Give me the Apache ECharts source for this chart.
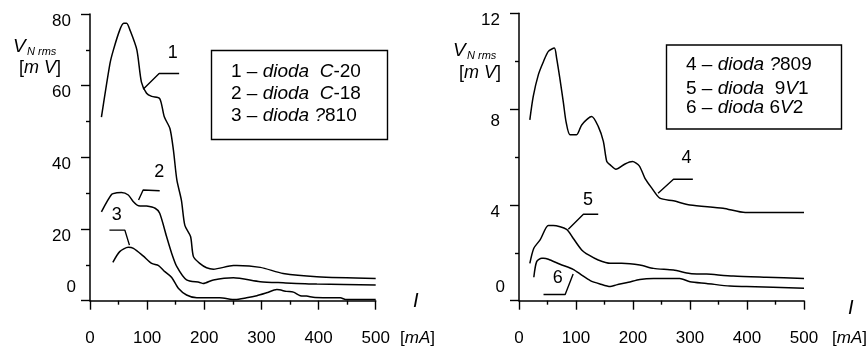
<!DOCTYPE html>
<html><head><meta charset="utf-8">
<script src="https://cdn.jsdelivr.net/npm/echarts@6/dist/echarts.min.js"></script>
<style>html,body{margin:0;padding:0;background:#fff}#c{width:867px;height:351px}</style>
</head><body><div id="c"></div>
<script>
// ---- data (I in mA, V in mV) ----
const xTickLabels = [0, 100, 200, 300, 400, 500];
const leftYTickLabels = [0, 20, 40, 60, 80];
const rightYTickLabels = [0, 4, 8, 12];

const curve1 = [[20,51.2],[35,66.2],[41,70],[52,75.5],[59,77.4],[64,77.4],[70,75.5],[82,70],[90,61],[99,57.9],[108,57],[122,56.4],[130,51.3],[140,48],[146,42],[152,33.7],[160,28],[166,21],[176,17.9],[181,12.3],[192,10.4],[204,9.2],[216,8.8],[251,9.8],[257,9.8],[298,9.3],[338,7.6],[397,6.7],[500,6.2]];
const curve2 = [[20,24.8],[38,29.7],[47,30.1],[55,30.2],[67,29.5],[76,27.6],[85,26.5],[99,26.4],[114,25.8],[122,24.4],[134,17.9],[143,13.2],[152,9.5],[169,5.8],[192,5.1],[198,4.8],[216,5.8],[251,6.4],[298,5.3],[338,5.0],[397,4.65],[500,4.4]];
const curve3 = [[40,10.7],[52,13.7],[67,14.9],[76,14.6],[93,12.5],[108,10.4],[120,9.8],[131,8.1],[143,6.5],[155,3.4],[169,1.6],[187,0.8],[204,0.8],[227,0.8],[254,0.3],[274,0.8],[292,1.4],[309,2.2],[327,3.1],[344,2.6],[356,2.4],[368,1.4],[379,1.3],[394,0.9],[438,0.8],[449,0.3],[500,0.3]];
const curve4 = [[19,7.55],[25,8.53],[34,9.44],[43,9.99],[51.5,10.41],[62,10.55],[66,10.13],[72,9.23],[78,8.25],[82.5,7.48],[89.5,6.93],[101,6.93],[110,7.34],[127.5,7.69],[139,7.28],[148,6.65],[154,5.81],[160,5.67],[170,5.49],[186,5.71],[199,5.81],[211,5.63],[221,5.11],[233,4.70],[247,4.28],[271,4.17],[300,4.0],[358,3.86],[397,3.68],[500,3.68]];
const curve5 = [[19,1.56],[26,2.19],[37,2.54],[51.5,3.14],[60,3.14],[83.5,2.98],[95,2.61],[110,2.12],[122,1.91],[139,1.70],[160,1.56],[180,1.56],[212,1.49],[236,1.35],[271,1.28],[300,1.14],[329,1.11],[376,1.03],[434,0.98],[500,0.93]];
const curve6 = [[26,0.98],[31,1.63],[40,1.77],[43,1.77],[51.5,1.73],[72,1.52],[95,1.31],[110,1.07],[125,0.84],[142,0.70],[160,0.59],[171,0.66],[192,0.77],[212,0.89],[236,0.93],[282,0.93],[300,0.79],[329,0.72],[370,0.61],[399,0.59],[500,0.52]];

// curve-number leader lines and label anchors
const lead1 = [[93,59],[121,63.4],[156,63.4]];
const lead2 = [[85,28.1],[93,30.9],[122,30.7]];
const lead3 = [[34,19.7],[61,19.7],[69,15.5]];
const lead4 = [[244,4.49],[271,5.07],[305,5.07]];
const lead5 = [[86.5,2.98],[113,3.61],[139,3.61]];
const lead6 = [[43,0.26],[81,0.26],[95,1.11]];
const leftTags = [{name:'1', value:[145,69]},{name:'2', value:[121,35.9]},{name:'3', value:[47,23.9]}];
const rightTags = [{name:'4', value:[294,5.95]},{name:'5', value:[121,4.2]},{name:'6', value:[68,0.95]}];

const leftLegend = ['1 – {i|dioda  C}-20', '2 – {i|dioda  C}-18', '3 – {i|dioda ?}810'];
const rightLegend = ['4 – {i|dioda ?}809', '5 – {i|dioda}  9{i|V}1', '6 – {i|dioda} 6{i|V}2'];

// ---- chart ----
const FONT = '"Liberation Sans", Arial, sans-serif';
const black = '#000';
const TICKFS = 17;
function xAxisCfg(g) {
  return {
    gridIndex: g, type: 'value', min: 0, max: 500, interval: 100,
    axisLine: {onZero: false, lineStyle: {color: black, width: 1.5}},
    axisTick: {length: 9, lineStyle: {color: black, width: 1.4}},
    minorTick: {show: true, splitNumber: 2, length: 4, lineStyle: {color: black, width: 1.4}},
    splitLine: {show: false}, minorSplitLine: {show: false},
    axisLabel: {margin: 29, fontSize: TICKFS, color: black, fontFamily: FONT,
      formatter: v => xTickLabels.includes(v) ? String(v) : ''}
  };
}
function yAxisCfg(g, max, interval, labels, shifts) {
  return {
    gridIndex: g, type: 'value', min: 0, max: max, interval: interval,
    axisLine: {lineStyle: {color: black, width: 1.5}},
    axisTick: {length: 9, lineStyle: {color: black, width: 1.4}},
    minorTick: {show: true, splitNumber: 2, length: 4, lineStyle: {color: black, width: 1.4}},
    splitLine: {show: false}, minorSplitLine: {show: false},
    axisLabel: {margin: 14, color: black, fontFamily: FONT, fontSize: TICKFS,
      formatter: v => labels.includes(v) ? ('{' + (shifts[v] || 'n') + '|' + v + '}') : '',
      rich: {
        n: {fontSize: TICKFS, fontFamily: FONT, color: black, padding: [14, 5, 0, 0]},
        m: {fontSize: TICKFS, fontFamily: FONT, color: black, padding: [24, 5, 0, 0]},
        z: {fontSize: TICKFS, fontFamily: FONT, color: black, padding: [0, 0, 26, 0]}
      }}
  };
}
function curve(data, xi, yi) {
  return {type: 'line', xAxisIndex: xi, yAxisIndex: yi, data: data, showSymbol: false, symbol: 'none',
    smooth: 0.25, lineStyle: {color: black, width: 1.5}, silent: true, z: 3};
}
function leader(data, xi, yi) {
  return {type: 'line', xAxisIndex: xi, yAxisIndex: yi, data: data, showSymbol: false, symbol: 'none',
    smooth: false, lineStyle: {color: black, width: 1.4}, silent: true, z: 3};
}
function tags(data, xi, yi) {
  return {type: 'scatter', xAxisIndex: xi, yAxisIndex: yi, data: data, symbolSize: 2,
    itemStyle: {color: 'rgba(255,255,255,0)'}, silent: true, z: 5,
    label: {show: true, position: [1, 1], align: 'center', verticalAlign: 'middle', formatter: '{b}',
      fontSize: 18, color: '#000', opacity: 1, textBorderWidth: 0, fontFamily: FONT}};
}
function legendBox(x, y, w, h, lines, tx, ys) {
  const els = [{type: 'rect', shape: {x: x, y: y, width: w, height: h},
    style: {fill: '#fff', stroke: black, lineWidth: 1.4}, z: 10}];
  lines.forEach((t, i) => els.push({type: 'text', x: tx, y: ys[i], z: 11,
    style: {text: t, font: '19px ' + FONT, fill: black, textVerticalAlign: 'middle',
      rich: {i: {fontStyle: 'italic', fontSize: 19, fontFamily: FONT, fill: black}}}}));
  return els;
}
function yName(x, yV, yU) {
  return [
    {type: 'text', x: x, y: yV, style: {text: 'V', font: 'italic 19px ' + FONT, fill: black, textVerticalAlign: 'middle'}},
    {type: 'text', x: x + 14, y: yV + 5, style: {text: 'N rms', font: 'italic 11px ' + FONT, fill: black, textVerticalAlign: 'middle'}},
    {type: 'text', x: x + 6, y: yU, style: {text: '[{i|m V}]', font: '18px ' + FONT, fill: black, textVerticalAlign: 'middle',
      rich: {i: {fontStyle: 'italic', fontSize: 18, fontFamily: FONT, fill: black}}}}
  ];
}
function xName(xI, yI, xU) {
  return [
    {type: 'text', x: xI, y: yI, style: {text: 'I', font: 'italic 20px ' + FONT, fill: black, textVerticalAlign: 'middle'}},
    {type: 'text', x: xU, y: 338, style: {text: '[{i|mA}]', font: '17px ' + FONT, fill: black, textVerticalAlign: 'middle',
      rich: {i: {fontStyle: 'italic', fontSize: 17, fontFamily: FONT, fill: black}}}}
  ];
}

const chart = echarts.init(document.getElementById('c'), null, {renderer: 'canvas'});
chart.setOption({
  backgroundColor: '#fff',
  animation: false,
  grid: [
    {left: 90, top: 14, width: 285.7, height: 286.7},
    {left: 519, top: 13.3, width: 285, height: 287.4}
  ],
  xAxis: [xAxisCfg(0), xAxisCfg(1)],
  yAxis: [yAxisCfg(0, 80, 20, leftYTickLabels, {0: 'z'}), yAxisCfg(1, 12, 4, rightYTickLabels, {0: 'z', 8: 'm'})],
  series: [
    curve(curve1, 0, 0), curve(curve2, 0, 0), curve(curve3, 0, 0),
    curve(curve4, 1, 1), curve(curve5, 1, 1), curve(curve6, 1, 1),
    leader(lead1, 0, 0), leader(lead2, 0, 0), leader(lead3, 0, 0),
    leader(lead4, 1, 1), leader(lead5, 1, 1), leader(lead6, 1, 1),
    tags(leftTags, 0, 0), tags(rightTags, 1, 1)
  ],
  graphic: [].concat(
    legendBox(211.5, 50.5, 176, 89, leftLegend, 231, [72, 94, 116]),
    legendBox(666.5, 45, 175, 84, rightLegend, 686, [65, 89, 108]),
    yName(13, 47, 68),
    yName(453, 51, 73),
    xName(413, 301, 400),
    xName(848, 308, 832)
  )
});
</script>
</body></html>
